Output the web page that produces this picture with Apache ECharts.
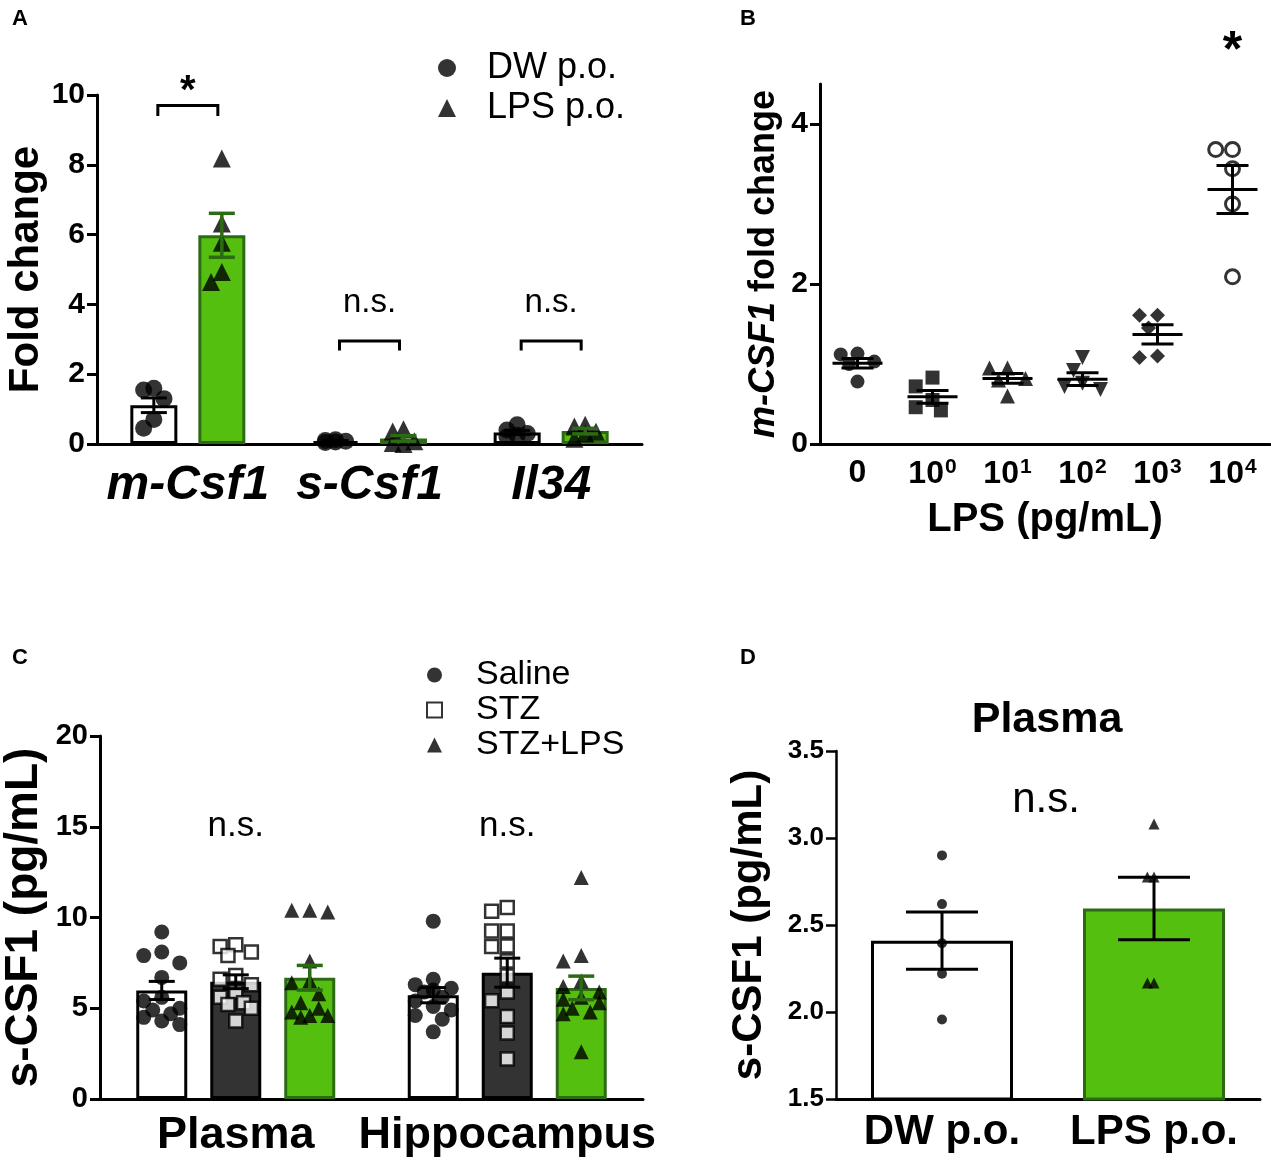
<!DOCTYPE html>
<html>
<head>
<meta charset="utf-8">
<script src="https://cdn.jsdelivr.net/npm/echarts@6/dist/echarts.min.js"></script>
<style>
html, body { margin: 0; padding: 0; background: #fff; }
#main { width: 1271px; height: 1163px; }
</style>
</head>
<body>
<div id="main"></div>
<script>
// ---- panel A: fold change of transcripts ----
var genesA = ['m-Csf1', 's-Csf1', 'Il34'];
var dwMeanA = [1.11, 0.08, 0.33];
var dwSemA = [0.21, 0.02, 0.06];
var lpsMeanA = [5.98, 0.16, 0.37];
var lpsSemA = [0.63, 0.08, 0.08];
var dwPointsA = [[1.55, 1.6, 1.3, 0.7, 0.45], [0.12, 0.1, 0.08, 0.06, 0.04], [0.55, 0.4, 0.3, 0.25, 0.2]];
var lpsPointsA = [[8.18, 6.32, 5.77, 4.93, 4.64], [0.42, 0.36, 0.08, 0.03, 0.0], [0.55, 0.5, 0.35, 0.3, 0.15]];
var sigA = ['*', 'n.s.', 'n.s.'];
var bracketTopA = [9.7, 2.95, 2.95];
var bracketLegA = [9.4, 2.68, 2.68];
var sigTextA = [10.1, 4.05, 4.05];

// ---- panel B: in vitro LPS dose ----
var dosesB = ['0', '10^0', '10^1', '10^2', '10^3', '10^4'];
var meanB = [1.01, 0.59, 0.82, 0.81, 1.37, 3.18];
var semB = [0.06, 0.08, 0.06, 0.08, 0.12, 0.30];
var pointsB = [
  [1.12, 1.13, 1.03, 1.0, 0.78],
  [0.83, 0.72, 0.55, 0.46, 0.42],
  [0.95, 0.95, 0.82, 0.8, 0.6],
  [1.08, 0.92, 0.76, 0.72, 0.68],
  [1.61, 1.61, 1.45, 1.1, 1.08],
  [3.68, 3.68, 3.44, 3.0, 2.09]
];
var symbolsB = ['circle', 'rect', 'triangle', 'triangle', 'diamond', 'emptyCircle'];
var sigB = ['', '', '', '', '', '*'];
var sigTextB = [0, 0, 0, 0, 0, 4.9];

// ---- panel C: s-CSF1 in STZ model ----
var regionsC = ['Plasma', 'Hippocampus'];
var salineMeanC = [5.98, 5.72];
var salineSemC = [0.5, 0.42];
var stzMeanC = [6.46, 6.96];
var stzSemC = [0.38, 0.8];
var stzLpsMeanC = [6.68, 6.12];
var stzLpsSemC = [0.68, 0.65];
var salinePointsC = [
  [9.2, 8.1, 7.9, 7.5, 6.7, 5.6, 5.4, 5.0, 4.9, 4.7, 4.5, 4.3, 4.1],
  [9.8, 6.6, 6.3, 6.1, 6.0, 5.9, 5.6, 5.4, 5.1, 4.9, 4.6, 4.4, 3.7]
];
var stzPointsC = [
  [8.5, 8.4, 8.1, 7.9, 6.8, 6.6, 6.3, 5.9, 5.6, 5.3, 5.2, 5.0, 4.3],
  [10.55, 10.35, 9.26, 9.26, 8.43, 8.4, 7.6, 6.77, 5.89, 5.42, 4.55, 3.63, 2.21]
];
var stzLpsPointsC = [
  [10.4, 10.3, 10.4, 7.6, 6.5, 6.4, 5.8, 5.3, 5.0, 4.8, 4.6, 4.6, 4.5],
  [12.2, 7.9, 7.6, 6.5, 6.2, 5.9, 5.6, 5.5, 5.3, 5.0, 4.8, 4.7, 2.6]
];
var sigC = ['n.s.', 'n.s.'];
var sigTextC = [15.0, 15.0];

// ---- panel D: plasma s-CSF1 ----
var groupsD = ['DW p.o.', 'LPS p.o.'];
var meanD = [2.41, 2.595];
var semD = [0.165, 0.18];
var pointsD = [[2.9, 2.62, 2.395, 2.22, 1.957], [3.08, 2.776, 2.776, 2.167, 2.167]];

var FONT = '"Liberation Sans", Arial, Helvetica, sans-serif';
var GREEN = '#54bf0f';
var GREEN_DK = '#2c6b14';
var DARK = '#333333';

// simple beeswarm limited to maxDx: horizontal pixel offsets so dots overlap little
function swarm(vals, ppu, size, maxDx) {
  var order = vals.map(function (v, i) { return i; });
  order.sort(function (a, b) { return vals[b] - vals[a]; });
  var placed = [], offs = [];
  var step = size * 0.6;
  var cands = [0];
  for (var k = 1; k * step <= maxDx + 0.01; k++) { cands.push(-k * step, k * step); }
  order.forEach(function (i) {
    var y = vals[i] * ppu, best = 0, bestD = -1;
    for (var c = 0; c < cands.length; c++) {
      var dx = cands[c], minD = Infinity;
      placed.forEach(function (p) {
        var d = Math.sqrt((p[0] - dx) * (p[0] - dx) + (p[1] - y) * (p[1] - y));
        if (d < minD) minD = d;
      });
      if (minD >= size * 0.95) { best = dx; bestD = minD; break; }
      if (minD > bestD) { bestD = minD; best = dx; }
    }
    placed.push([best, y]);
    offs[i] = best;
  });
  return offs;
}

// x offset of the i-th bar inside a category
function barOffset(i, n, bw, gap) {
  var total = n * bw + (n - 1) * gap;
  return -total / 2 + bw / 2 + i * (bw + gap);
}

function dots(name, gi, perCat, offset, symbol, size, style, ppu, maxDx, rotate) {
  var data = [];
  perCat.forEach(function (vals, ci) {
    var dx = swarm(vals, ppu, size, maxDx);
    vals.forEach(function (v, k) {
      data.push({ value: [ci, v], symbolOffset: [offset + dx[k], 0] });
    });
  });
  return {
    type: 'scatter', name: name, xAxisIndex: gi, yAxisIndex: gi,
    symbol: symbol, symbolSize: size, symbolRotate: rotate || 0,
    itemStyle: style, data: data, z: 4, silent: true
  };
}

function errBars(gi, means, sems, offset, capW, color, lw, meanW) {
  return {
    type: 'custom', xAxisIndex: gi, yAxisIndex: gi, z: 6, silent: true,
    data: means.map(function (m, i) { return [i, m, sems[i]]; }),
    renderItem: function (params, api) {
      var c = api.value(0), m = api.value(1), s = api.value(2);
      var top = api.coord([c, m + s]), bot = api.coord([c, m - s]), mid = api.coord([c, m]);
      var x = top[0] + offset;
      var st = { stroke: color, lineWidth: lw };
      var ch = [
        { type: 'line', shape: { x1: x, y1: top[1], x2: x, y2: bot[1] }, style: st },
        { type: 'line', shape: { x1: x - capW / 2, y1: top[1], x2: x + capW / 2, y2: top[1] }, style: st },
        { type: 'line', shape: { x1: x - capW / 2, y1: bot[1], x2: x + capW / 2, y2: bot[1] }, style: st }
      ];
      if (meanW) {
        ch.push({ type: 'line', shape: { x1: x - meanW / 2, y1: mid[1], x2: x + meanW / 2, y2: mid[1] }, style: st });
      }
      return { type: 'group', children: ch };
    }
  };
}

// significance marks: optional bracket + text, in data coordinates
function sigMarks(gi, labels, textY, font, top, leg, half) {
  return {
    type: 'custom', xAxisIndex: gi, yAxisIndex: gi, z: 7, silent: true, clip: false,
    data: labels.map(function (t, i) { return [i, textY[i]]; }),
    renderItem: function (params, api) {
      var i = params.dataIndex;
      var c = api.value(0);
      var tp = api.coord([c, api.value(1)]);
      var ch = [];
      if (top) {
        var b = api.coord([c, top[i]]), l = api.coord([c, leg[i]]);
        var x0 = b[0] - half, x1 = b[0] + half;
        ch.push({ type: 'polyline', shape: { points: [[x0, l[1]], [x0, b[1]], [x1, b[1]], [x1, l[1]]] },
          style: { stroke: '#000', lineWidth: 3, fill: null } });
      }
      var star = labels[i] === '*';
      ch.push({ type: 'text', x: tp[0], y: tp[1],
        style: { text: labels[i], align: 'center', verticalAlign: 'middle',
          font: (star ? font.star : font.ns) + ' ' + FONT, fill: '#000' } });
      return { type: 'group', children: ch };
    }
  };
}

function xAx(gi, cats, fontSize, margin, extra) {
  var ax = {
    type: 'category', gridIndex: gi, data: cats,
    axisLine: { lineStyle: { color: '#000', width: 3 } },
    axisTick: { alignWithLabel: true, length: 9, lineStyle: { color: '#000', width: 3 } },
    axisLabel: { interval: 0, color: '#000', fontFamily: FONT, fontWeight: 'bold', fontSize: fontSize, margin: margin }
  };
  for (var k in extra) ax[k] = extra[k];
  return ax;
}

function yAx(gi, min, max, interval, fontSize, name, nameSize, nameGap, lw, fmt) {
  return {
    type: 'value', gridIndex: gi, min: min, max: max, interval: interval,
    splitLine: { show: false },
    axisLine: { show: true, lineStyle: { color: '#000', width: lw } },
    axisTick: { show: true, length: 10, lineStyle: { color: '#000', width: lw } },
    axisLabel: { color: '#000', fontFamily: FONT, fontWeight: 'bold', fontSize: fontSize, margin: 12, formatter: fmt },
    name: name, nameLocation: 'middle', nameGap: nameGap, nameRotate: 90,
    nameTextStyle: { color: '#000', fontFamily: FONT, fontWeight: 'bold', fontSize: nameSize,
      rich: { i: { fontStyle: 'italic', fontWeight: 'bold', fontSize: nameSize, fontFamily: FONT } } }
  };
}

var chart = echarts.init(document.getElementById('main'));

var bwA = 47, gapA = 21;
var bwC = 51, gapC = 23;
var ppuA = 349 / 10, ppuB = 360 / 4.5, ppuC = 363 / 20, ppuD = 348 / 2;

var yB = yAx(1, 0, 4.5, 2, 30, '{i|m-CSF1} fold change', 36, 38, 3);
yB.axisTick.customValues = [0, 2, 4];
yB.axisLabel.customValues = [0, 2, 4];

var option = {
  backgroundColor: '#fff',
  animation: false,
  textStyle: { fontFamily: FONT },
  grid: [
    { left: 97, top: 95, width: 545, height: 349 },
    { left: 820, top: 84, width: 450, height: 360 },
    { left: 99, top: 736, width: 544, height: 363 },
    { left: 836, top: 751, width: 424, height: 348 }
  ],
  xAxis: [
    xAx(0, genesA, 48, 18, { axisLabel: { interval: 0, color: '#000', fontFamily: FONT, fontWeight: 'bold', fontStyle: 'italic', fontSize: 48, margin: 18 } }),
    xAx(1, dosesB, 32, 12, {
      axisLabel: {
        interval: 0, color: '#000', fontFamily: FONT, fontWeight: 'bold', fontSize: 32, margin: 13,
        formatter: function (v) {
          var p = v.split('^');
          return p.length > 1 ? p[0] + '{s|' + p[1] + '}' : v;
        },
        rich: { s: { fontSize: 21, fontWeight: 'bold', fontFamily: FONT, verticalAlign: 'top', padding: [0, 0, 14, 1] } }
      },
      name: 'LPS (pg/mL)', nameLocation: 'middle', nameGap: 56,
      nameTextStyle: { color: '#000', fontFamily: FONT, fontWeight: 'bold', fontSize: 40 }
    }),
    xAx(2, regionsC, 45, 14, {}),
    xAx(3, groupsD, 42, 12, {})
  ],
  yAxis: [
    yAx(0, 0, 10, 2, 30, 'Fold change', 42, 48, 3),
    yB,
    yAx(2, 0, 20, 5, 29, 's-CSF1 (pg/mL)', 46, 53, 3),
    yAx(3, 1.5, 3.5, 0.5, 26, 's-CSF1 (pg/mL)', 42, 66, 2.5, function (v) { return v.toFixed(1); })
  ],
  legend: [
    {
      data: ['DW p.o.', 'LPS p.o.'], orient: 'vertical', left: 438, top: 50, padding: 0,
      itemWidth: 18, itemHeight: 18, itemGap: 4, selectedMode: false,
      textStyle: { color: '#000', fontFamily: FONT, fontSize: 36, lineHeight: 36, padding: [0, 0, 0, 26] }
    },
    {
      data: ['Saline', 'STZ', 'STZ+LPS'], orient: 'vertical', left: 426, top: 658, padding: 0,
      itemWidth: 15, itemHeight: 15, itemGap: 1, selectedMode: false,
      textStyle: { color: '#000', fontFamily: FONT, fontSize: 34, lineHeight: 34, padding: [0, 0, 0, 29] }
    }
  ],
  series: [
    // A
    { type: 'bar', xAxisIndex: 0, yAxisIndex: 0, data: dwMeanA, barWidth: bwA, barGap: (gapA / bwA * 100) + '%',
      itemStyle: { color: '#fff', borderColor: '#000', borderWidth: 3 }, silent: true },
    { type: 'bar', xAxisIndex: 0, yAxisIndex: 0, data: lpsMeanA, barWidth: bwA, barGap: (gapA / bwA * 100) + '%',
      itemStyle: { color: GREEN, borderColor: GREEN_DK, borderWidth: 3 }, silent: true },
    dots('DW p.o.', 0, dwPointsA, barOffset(0, 2, bwA, gapA), 'circle', 17, { color: '#000' }, ppuA, 20),
    dots('LPS p.o.', 0, lpsPointsA, barOffset(1, 2, bwA, gapA), 'triangle', 18, { color: '#000' }, ppuA, 20),
    errBars(0, dwMeanA, dwSemA, barOffset(0, 2, bwA, gapA), 26, '#000', 3),
    errBars(0, lpsMeanA, lpsSemA, barOffset(1, 2, bwA, gapA), 26, GREEN_DK, 3.5),
    sigMarks(0, sigA, sigTextA, { star: 'bold 40px', ns: '33px' }, bracketTopA, bracketLegA, 30),

    // B
    dots('B0', 1, pointsB.slice(0, 1), 0, symbolsB[0], 14, { color: '#000' }, ppuB, 18),
    dots('B1', 1, [[], pointsB[1]], 0, symbolsB[1], 14, { color: '#000' }, ppuB, 18),
    dots('B2', 1, [[], [], pointsB[2]], 0, symbolsB[2], 15, { color: '#000' }, ppuB, 18),
    dots('B3', 1, [[], [], [], pointsB[3]], 0, symbolsB[3], 15, { color: '#000' }, ppuB, 18, 180),
    dots('B4', 1, [[], [], [], [], pointsB[4]], 0, symbolsB[4], 15, { color: '#000' }, ppuB, 18),
    dots('B5', 1, [[], [], [], [], [], pointsB[5]], 0, 'circle', 14,
      { color: '#fff', borderColor: '#000', borderWidth: 3 }, ppuB, 18),
    errBars(1, meanB, semB, 0, 32, '#000', 3, 50),
    sigMarks(1, sigB, sigTextB, { star: 'bold 50px', ns: '30px' }),

    // C
    { type: 'bar', xAxisIndex: 2, yAxisIndex: 2, data: salineMeanC, barWidth: bwC, barGap: (gapC / bwC * 100) + '%',
      itemStyle: { color: '#fff', borderColor: '#000', borderWidth: 3 }, silent: true },
    { type: 'bar', xAxisIndex: 2, yAxisIndex: 2, data: stzMeanC, barWidth: bwC, barGap: (gapC / bwC * 100) + '%',
      itemStyle: { color: DARK, borderColor: '#000', borderWidth: 3 }, silent: true },
    { type: 'bar', xAxisIndex: 2, yAxisIndex: 2, data: stzLpsMeanC, barWidth: bwC, barGap: (gapC / bwC * 100) + '%',
      itemStyle: { color: GREEN, borderColor: GREEN_DK, borderWidth: 3 }, silent: true },
    dots('Saline', 2, salinePointsC, barOffset(0, 3, bwC, gapC), 'circle', 15, { color: '#000' }, ppuC, 20),
    dots('STZ', 2, stzPointsC, barOffset(1, 3, bwC, gapC), 'rect', 13,
      { color: '#fff', borderColor: '#000', borderWidth: 2.5 }, ppuC, 20),
    dots('STZ+LPS', 2, stzLpsPointsC, barOffset(2, 3, bwC, gapC), 'triangle', 15, { color: '#000' }, ppuC, 20),
    errBars(2, salineMeanC, salineSemC, barOffset(0, 3, bwC, gapC), 26, '#000', 3),
    errBars(2, stzMeanC, stzSemC, barOffset(1, 3, bwC, gapC), 26, '#000', 3),
    errBars(2, stzLpsMeanC, stzLpsSemC, barOffset(2, 3, bwC, gapC), 26, GREEN_DK, 3.5),
    sigMarks(2, sigC, sigTextC, { star: 'bold 40px', ns: '35px' }),

    // D
    { type: 'bar', xAxisIndex: 3, yAxisIndex: 3, barWidth: 142,
      data: [
        { value: meanD[0], itemStyle: { color: '#fff', borderColor: '#000', borderWidth: 3 } },
        { value: meanD[1], itemStyle: { color: GREEN, borderColor: GREEN_DK, borderWidth: 3 } }
      ], silent: true },
    dots('D DW', 3, [pointsD[0], []], 0, 'circle', 10, { color: '#000' }, ppuD, 10),
    dots('D LPS', 3, [[], pointsD[1]], 0, 'triangle', 11, { color: '#000' }, ppuD, 10),
    errBars(3, meanD, semD, 0, 72, '#000', 3)
  ],
  graphic: [
    { type: 'text', left: 12, top: 8, style: { text: 'A', font: 'bold 22px ' + FONT, fill: '#000' } },
    { type: 'text', left: 740, top: 8, style: { text: 'B', font: 'bold 22px ' + FONT, fill: '#000' } },
    { type: 'text', left: 12, top: 647, style: { text: 'C', font: 'bold 22px ' + FONT, fill: '#000' } },
    { type: 'text', left: 740, top: 647, style: { text: 'D', font: 'bold 22px ' + FONT, fill: '#000' } },
    { type: 'text', x: 1047, y: 720, style: { text: 'Plasma', font: 'bold 43px ' + FONT, fill: '#000', align: 'center', verticalAlign: 'middle' } },
    { type: 'text', x: 1046, y: 800, style: { text: 'n.s.', font: '42px ' + FONT, fill: '#000', align: 'center', verticalAlign: 'middle' } }
  ]
};

chart.setOption(option);
window.onresize = function () { chart.resize(); };
</script>
</body>
</html>
